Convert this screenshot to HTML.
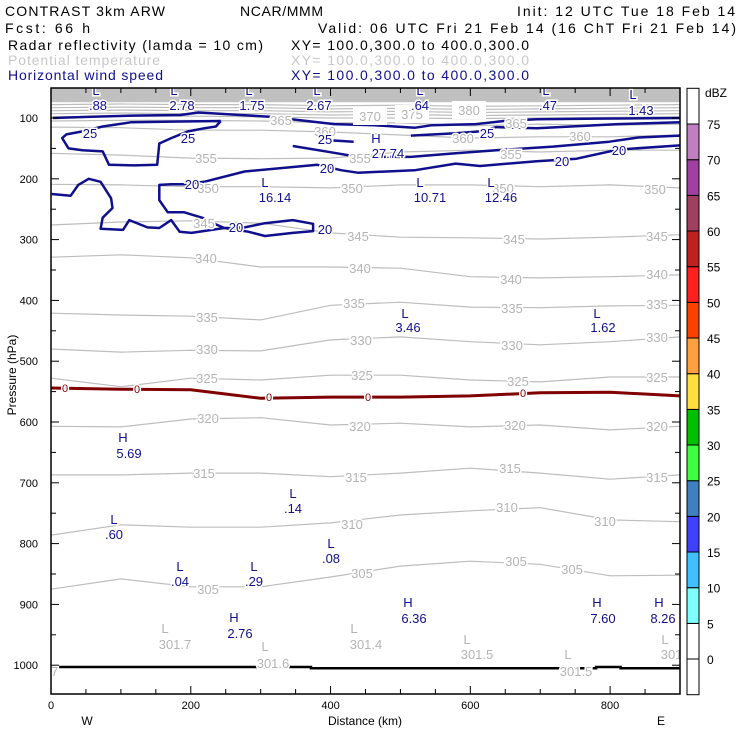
<!DOCTYPE html>
<html><head><meta charset="utf-8"><style>
html,body{margin:0;padding:0;background:#fff;}
svg{display:block;font-family:"Liberation Sans",sans-serif;}
</style></head><body>
<svg id="chart" width="740" height="740" viewBox="0 0 740 740" xmlns="http://www.w3.org/2000/svg">
<g font-size="14">
<text x="5" y="16" textLength="160">CONTRAST  3km ARW</text>
<text x="240" y="16" textLength="83">NCAR/MMM</text>
<text x="517" y="16" textLength="218">Init: 12 UTC Tue 18 Feb 14</text>
<text x="5" y="33" textLength="85">Fcst:   66 h</text>
<text x="318" y="33" textLength="418">Valid: 06 UTC Fri 21 Feb 14 (16 ChT Fri 21 Feb 14)</text>
<text x="8" y="50" textLength="255">Radar reflectivity (lamda = 10 cm)</text>
<text x="291" y="50" textLength="238">XY= 100.0,300.0 to 400.0,300.0</text>
<text x="8" y="65" textLength="152" fill="#c8c8c8">Potential temperature</text>
<text x="291" y="65" textLength="238" fill="#c8c8c8">XY= 100.0,300.0 to 400.0,300.0</text>
<text x="8" y="80" textLength="155" fill="#10108c">Horizontal wind speed</text>
<text x="291" y="80" textLength="238" fill="#10108c">XY= 100.0,300.0 to 400.0,300.0</text>
</g>
<defs><clipPath id="plotclip"><rect x="51" y="88" width="629" height="606"/></clipPath></defs>
<g id="plot" clip-path="url(#plotclip)"></g>
<g id="axes"></g>
<g id="cbar"></g>
</svg>
<script>
const kmGrid = [0,100,200,300,400,500,600,700,800,900];
const thetaLevels = [305,310,315,320,325,330,335,340,345,350,355,360,365,370,375,380,385,390];
const thetaP = [
 [875,858,871,871,855,837,829,834,853,852],
 [786,769,773,773,766,753,746,741,761,764],
 [687,687,684,684,690,684,676,684,694,687],
 [607,608,595,593,605,602,608,605,613,607],
 [528,542,528,531,523,523,531,534,526,526],
 [480,485,482,483,465,460,468,473,468,460],
 [421,424,426,432,408,403,411,412,409,408],
 [329,325,330,345,345,347,361,363,361,358],
 [276,271,269,273,289,296,297,299,296,292],
 [209,210,213,213,215,210,210,213,210,215],
 [158,161,166,167,166,156,153,156,153,153],
 [115,116,120,120,123,128,133,131,131,128],
 [105,104,104,105,108,108,113,110,112,110],
 [98,97,97,98,100,100,101,100,99,98],
 [93,92,93,93,95,94,96,95,94,93],
 [88,87,88,88,90,89,91,90,89,88],
 [83,82,83,83,85,84,86,85,84,83],
 [78,77,78,78,80,79,81,80,79,78]
];
const freezeP = [544,546,547,561,559,559,557,552,551,557];
const sfcKm = [0,372,372,780,780,815,815,900];
const sfcP = [1003,1003,1005,1005,1003,1003,1005,1005];
const windA_km = [3,58,116,185,211,313,405,463,521,544,608,648,695,782,900];
const windA_p = [100,98,96,95,91,98,110,112,116,112,110,105,102,101,100];
const windB_km = [515,579,614,637,695,811,900];
const windB_p = [129,125,122,115,117,110,107];
const windC_km = [346,404,439,515,579,637,718,799,840,900];
const windC_p = [146,157,164,164,158,153,147,139,132,129];
const windH_km = [404,433];
const windH_p = [137,139];
const windBlob_km = [243,172,114,74,45,22,16,25,45,74,83,120,152,155,172,196,219,236,243];
const windBlob_p = [105,106,107,114,122,127,133,150,153,155,177,178,177,142,133,122,117,114,105];
const windW_km = [1,28,39,54,71,86,88,74,71,103,112,138,155,172,184,201,248,282,306,346,375,375,346,306,277,248,236,219,190,167,155,155,172,190,219,277,381,416,439,520,579,614,695,752,811,900];
const windW_p = [225,228,210,200,205,232,248,264,282,284,268,280,281,268,287,289,281,287,294,289,286,274,268,273,280,281,275,265,255,255,235,210,209,209,205,188,177,186,190,186,175,179,171,167,152,145];
const dbzLevels = [0,5,10,15,20,25,30,35,40,45,50,55,60,65,70,75];
const dbzColors = ["#ffffff","#ffffff","#80ffff","#40c0ff","#4040ff","#4080c0","#40ff40","#00c000","#ffe040","#ffa040","#ff4000","#ff2020","#c02020","#a04060","#a040a0","#c080c0","#ffffff"];
const xTicks = [0,200,400,600,800];
const yTicks = [100,200,300,400,500,600,700,800,900,1000];
const blueLabels = [
 ["L",96,90],[".88",98,105],["L",174,90],["2.78",182,105],["L",249,90],["1.75",252,105],["L",317,90],["2.67",319,105],
 ["L",420,90],[".64",420,105],["L",546,90],[".47",548,105],["L",633,94],["1.43",641,110],
 ["H",376,138],["27.74",388,153],["L",265,182],["16.14",275,197],["L",420,182],["10.71",430,197],["L",491,182],["12.46",501,197],
 ["L",405,313],["3.46",408,327],["L",597,313],["1.62",603,327],["H",123,437],["5.69",129,453],
 ["L",114,519],[".60",114,534],["L",293,493],[".14",293,508],["L",331,543],[".08",331,558],["L",180,566],[".04",180,581],["L",254,566],[".29",254,581],
 ["H",234,617],["2.76",240,633],["H",408,602],["6.36",414,618],["H",597,602],["7.60",603,618],["H",659,602],["8.26",663,618],
 ["25",90,133],["25",188,138],["25",325,139],["25",487,133],["20",327,168],["20",562,161],["20",619,150],["20",192,184],["20",236,227],["20",325,229]
];
const grayLabels = [
 ["365",281,120],["360",325,131],["360",463,138],["365",516,123],["360",580,136],
 ["355",206,158],["355",360,158],["355",511,154],
 ["350",208,188],["350",352,188],["350",503,188],["350",655,189],
 ["345",204,223],["345",358,236],["345",514,239],["345",657,236],
 ["340",206,258],["340",360,268],["340",511,279],["340",657,274],
 ["335",207,317],["335",354,303],["335",512,308],["335",657,304],
 ["330",207,349],["330",361,340],["330",512,345],["330",657,337],
 ["325",207,378],["325",362,375],["325",518,381],["325",657,377],
 ["320",208,418],["320",360,426],["320",515,425],["320",657,426],
 ["315",204,473],["315",356,477],["315",510,468],["315",657,477],
 ["310",352,524],["310",507,507],["310",605,521],
 ["305",208,589],["305",362,573],["305",516,561],["305",572,569],
 ["L",165,628],["301.7",175,644],["L",265,646],["301.6",273,663],["L",354,628],["301.4",366,644],
 ["L",467,639],["301.5",477,654],["L",568,654],["301.5",576,671],["L",665,639],["301.5",677,654],["301.7",42,671]
];
const boxLabels = [["370",370,116],["375",412,114],["380",469,110]];
const redLabels = [[65,388],[137,389],[269,397],[368,397],[523,393]];

const NS = "http://www.w3.org/2000/svg";
const X = km => 51 + km * 629 / 900;
const Y = p => 118 + (p - 100) * 0.608;
function mk(tag, attrs, parent){ const e = document.createElementNS(NS, tag); for (const k in attrs) e.setAttribute(k, attrs[k]); parent.appendChild(e); return e; }
function pathFrom(kms, ps){ return kms.map((k,i)=>(i?"L":"M")+X(k).toFixed(1)+","+Y(ps[i]).toFixed(1)).join(""); }
const plot = document.getElementById("plot");
const axes = document.getElementById("axes");
const cbar = document.getElementById("cbar");

// top dense band
const band = mk("rect", {x:51, y:88, width:629, height:(Y(74)-88).toFixed(1), fill:"#c0c0c0"}, plot);



thetaLevels.forEach((lev, i) => {
  const ln = mk("path", {d:pathFrom(kmGrid, thetaP[i]), fill:"none", stroke:"#bdbdbd", "stroke-width":1.2}, plot);
  
  
});

const fz = mk("path", {d:pathFrom(kmGrid, freezeP), fill:"none", stroke:"#800000", "stroke-width":3}, plot);



const sf = mk("path", {d:pathFrom(sfcKm, sfcP), fill:"none", stroke:"#000", "stroke-width":2.5}, plot);



const winds = [[windA_km,windA_p,"wind-contour-upper"],[windB_km,windB_p,"wind-contour-25-east"],[windC_km,windC_p,"wind-contour-20-east"],[windH_km,windH_p,"wind-contour-25-jet"],[windBlob_km,windBlob_p,"wind-contour-25-west"],[windW_km,windW_p,"wind-contour-20-west"]];
winds.forEach(w => {
  const ln = mk("path", {d:pathFrom(w[0], w[1]), fill:"none", stroke:"#10108c", "stroke-width":2.5, "stroke-linejoin":"round"}, plot);
  
  
});

grayLabels.forEach(l => {
  const t = mk("text", {x:l[1], y:l[2]+5, "text-anchor":"middle", "font-size":13, fill:"#b4b4b4", stroke:"#fff", "stroke-width":3, "paint-order":"stroke"}, plot);
  t.textContent = l[0];
  
  
});
boxLabels.forEach(l => {
  const r = mk("rect", {x:l[1]-17, y:l[2]-9, width:34, height:18, fill:"#fff"}, plot);
  
  
  const t = mk("text", {x:l[1], y:l[2]+5, "text-anchor":"middle", "font-size":13, fill:"#b4b4b4"}, plot);
  t.textContent = l[0];
  
  
});
redLabels.forEach(l => {
  const t = mk("text", {x:l[0], y:l[1]+4, "text-anchor":"middle", "font-size":11, fill:"#800000", stroke:"#fff", "stroke-width":3, "paint-order":"stroke"}, plot);
  t.textContent = "0";
  
  
});
blueLabels.forEach(l => {
  const t = mk("text", {x:l[1], y:l[2]+5, "text-anchor":"middle", "font-size":13, fill:"#10108c", stroke:"#fff", "stroke-width":3, "paint-order":"stroke"}, plot);
  t.textContent = l[0];
  
  
});

// frame
const fr = mk("rect", {x:51, y:88, width:629, height:606, fill:"none", stroke:"#000", "stroke-width":1.5}, axes);


for (let km = 0; km <= 900; km += 50) {
  const len = km % 200 === 0 ? 8 : 5;
  const tb = mk("line", {x1:X(km), x2:X(km), y1:694, y2:694-len, stroke:"#000"}, axes);
  
  
  const tt = mk("line", {x1:X(km), x2:X(km), y1:88, y2:88+len, stroke:"#000"}, axes);
  
  
}
xTicks.forEach(v => {
  const t = mk("text", {x:X(v), y:709, "text-anchor":"middle", "font-size":11}, axes);
  t.textContent = v;
  
  
});
for (let p = 100; p <= 1000; p += 50) {
  const len = p % 100 === 0 ? 8 : 5;
  const tl = mk("line", {x1:51, x2:51+len, y1:Y(p), y2:Y(p), stroke:"#000"}, axes);
  
  
  const tr = mk("line", {x1:680, x2:680-len, y1:Y(p), y2:Y(p), stroke:"#000"}, axes);
  
  
}
yTicks.forEach(v => {
  const t = mk("text", {x:38, y:Y(v)+4, "text-anchor":"end", "font-size":11}, axes);
  t.textContent = v;
  
  
});
const xt = mk("text", {x:365, y:725, "text-anchor":"middle", "font-size":12}, axes);
xt.textContent = "Distance (km)";


const wl = mk("text", {x:87, y:725, "text-anchor":"middle", "font-size":12}, axes);
wl.textContent = "W";


const el = mk("text", {x:661, y:725, "text-anchor":"middle", "font-size":12}, axes);
el.textContent = "E";


const yt = mk("text", {x:0, y:0, "text-anchor":"middle", "font-size":12, transform:"translate(16,375) rotate(-90)"}, axes);
yt.textContent = "Pressure (hPa)";



// colorbar
const CB = v => 659 - v * (659 - 124) / 75;
dbzColors.forEach((c, i) => {
  const top = i < dbzLevels.length ? CB(dbzLevels[dbzLevels.length - 1 - i] ) : 0;
  void top;
});
for (let i = 0; i < dbzColors.length; i++) {
  const lo = i === 0 ? -5 : dbzLevels[i-1];
  const hi = i === 0 ? 0 : (i < dbzLevels.length ? dbzLevels[i] : 80);
  const loV = i === 0 ? -5 : dbzLevels[i-1];
  const r = mk("rect", {x:687, y:CB(i < dbzLevels.length ? (i===0?0:dbzLevels[i]) : 80).toFixed(1), width:12, height:(CB(loV)-CB(i===0?0:hi)).toFixed(1), fill:dbzColors[i], stroke:"#000", "stroke-width":1}, cbar);
  
  
  void lo;
}
dbzLevels.forEach(v => {
  const t = mk("text", {x:707, y:CB(v)+5, "font-size":12}, cbar);
  t.textContent = v;
  
  
});
const du = mk("text", {x:705, y:97, "font-size":12}, cbar);
du.textContent = "dBZ";


</script>
</body></html>
